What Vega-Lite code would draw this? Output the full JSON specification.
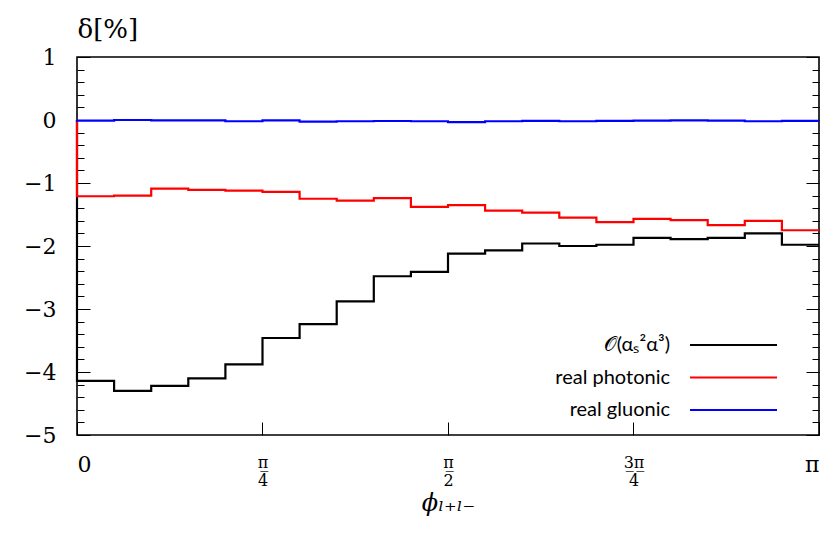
{
  "$schema": "https://vega.github.io/schema/vega-lite/v6.json",
  "width": 742,
  "height": 378,
  "autosize": {"type": "none"},
  "padding": {"left": 77, "top": 57, "right": 14, "bottom": 101},
  "background": "white",
  "config": {
    "view": {"stroke": "black", "strokeWidth": 1.6},
    "font": "DejaVu Serif",
    "axis": {"labelFont": "DejaVu Serif", "titleFont": "DejaVu Serif", "labelColor": "black", "titleColor": "black", "tickColor": "black", "tickWidth": 1, "domain": false, "grid": false}
  },
  "data": {"values": [
    {"s": "𝒪(αₛ²α³)", "o": 0, "phi": 0, "d": 0},
    {"s": "𝒪(αₛ²α³)", "o": 1, "phi": 0, "d": -4.14},
    {"s": "𝒪(αₛ²α³)", "o": 2, "phi": 0.15708, "d": -4.30},
    {"s": "𝒪(αₛ²α³)", "o": 3, "phi": 0.31416, "d": -4.22},
    {"s": "𝒪(αₛ²α³)", "o": 4, "phi": 0.47124, "d": -4.10},
    {"s": "𝒪(αₛ²α³)", "o": 5, "phi": 0.62832, "d": -3.88},
    {"s": "𝒪(αₛ²α³)", "o": 6, "phi": 0.78540, "d": -3.46},
    {"s": "𝒪(αₛ²α³)", "o": 7, "phi": 0.94248, "d": -3.24},
    {"s": "𝒪(αₛ²α³)", "o": 8, "phi": 1.09956, "d": -2.88},
    {"s": "𝒪(αₛ²α³)", "o": 9, "phi": 1.25664, "d": -2.48},
    {"s": "𝒪(αₛ²α³)", "o": 10, "phi": 1.41372, "d": -2.41},
    {"s": "𝒪(αₛ²α³)", "o": 11, "phi": 1.57080, "d": -2.12},
    {"s": "𝒪(αₛ²α³)", "o": 12, "phi": 1.72788, "d": -2.07},
    {"s": "𝒪(αₛ²α³)", "o": 13, "phi": 1.88496, "d": -1.96},
    {"s": "𝒪(αₛ²α³)", "o": 14, "phi": 2.04204, "d": -2.00},
    {"s": "𝒪(αₛ²α³)", "o": 15, "phi": 2.19911, "d": -1.98},
    {"s": "𝒪(αₛ²α³)", "o": 16, "phi": 2.35619, "d": -1.87},
    {"s": "𝒪(αₛ²α³)", "o": 17, "phi": 2.51327, "d": -1.89},
    {"s": "𝒪(αₛ²α³)", "o": 18, "phi": 2.67035, "d": -1.87},
    {"s": "𝒪(αₛ²α³)", "o": 19, "phi": 2.82743, "d": -1.80},
    {"s": "𝒪(αₛ²α³)", "o": 20, "phi": 2.98451, "d": -1.98},
    {"s": "𝒪(αₛ²α³)", "o": 21, "phi": 3.141593, "d": -1.98},
    {"s": "real photonic", "o": 0, "phi": 0, "d": 0},
    {"s": "real photonic", "o": 1, "phi": 0, "d": -1.21},
    {"s": "real photonic", "o": 2, "phi": 0.15708, "d": -1.20},
    {"s": "real photonic", "o": 3, "phi": 0.31416, "d": -1.09},
    {"s": "real photonic", "o": 4, "phi": 0.47124, "d": -1.11},
    {"s": "real photonic", "o": 5, "phi": 0.62832, "d": -1.12},
    {"s": "real photonic", "o": 6, "phi": 0.78540, "d": -1.14},
    {"s": "real photonic", "o": 7, "phi": 0.94248, "d": -1.25},
    {"s": "real photonic", "o": 8, "phi": 1.09956, "d": -1.28},
    {"s": "real photonic", "o": 9, "phi": 1.25664, "d": -1.24},
    {"s": "real photonic", "o": 10, "phi": 1.41372, "d": -1.38},
    {"s": "real photonic", "o": 11, "phi": 1.57080, "d": -1.35},
    {"s": "real photonic", "o": 12, "phi": 1.72788, "d": -1.44},
    {"s": "real photonic", "o": 13, "phi": 1.88496, "d": -1.47},
    {"s": "real photonic", "o": 14, "phi": 2.04204, "d": -1.55},
    {"s": "real photonic", "o": 15, "phi": 2.19911, "d": -1.62},
    {"s": "real photonic", "o": 16, "phi": 2.35619, "d": -1.57},
    {"s": "real photonic", "o": 17, "phi": 2.51327, "d": -1.59},
    {"s": "real photonic", "o": 18, "phi": 2.67035, "d": -1.67},
    {"s": "real photonic", "o": 19, "phi": 2.82743, "d": -1.60},
    {"s": "real photonic", "o": 20, "phi": 2.98451, "d": -1.75},
    {"s": "real photonic", "o": 21, "phi": 3.141593, "d": -1.75},
    {"s": "real gluonic", "o": 0, "phi": 0, "d": 0},
    {"s": "real gluonic", "o": 1, "phi": 0, "d": -0.01},
    {"s": "real gluonic", "o": 2, "phi": 0.15708, "d": 0.0},
    {"s": "real gluonic", "o": 3, "phi": 0.31416, "d": -0.005},
    {"s": "real gluonic", "o": 4, "phi": 0.47124, "d": -0.005},
    {"s": "real gluonic", "o": 5, "phi": 0.62832, "d": -0.02},
    {"s": "real gluonic", "o": 6, "phi": 0.78540, "d": -0.005},
    {"s": "real gluonic", "o": 7, "phi": 0.94248, "d": -0.026},
    {"s": "real gluonic", "o": 8, "phi": 1.09956, "d": -0.02},
    {"s": "real gluonic", "o": 9, "phi": 1.25664, "d": -0.016},
    {"s": "real gluonic", "o": 10, "phi": 1.41372, "d": -0.02},
    {"s": "real gluonic", "o": 11, "phi": 1.57080, "d": -0.035},
    {"s": "real gluonic", "o": 12, "phi": 1.72788, "d": -0.02},
    {"s": "real gluonic", "o": 13, "phi": 1.88496, "d": -0.015},
    {"s": "real gluonic", "o": 14, "phi": 2.04204, "d": -0.02},
    {"s": "real gluonic", "o": 15, "phi": 2.19911, "d": -0.015},
    {"s": "real gluonic", "o": 16, "phi": 2.35619, "d": -0.01},
    {"s": "real gluonic", "o": 17, "phi": 2.51327, "d": -0.005},
    {"s": "real gluonic", "o": 18, "phi": 2.67035, "d": -0.01},
    {"s": "real gluonic", "o": 19, "phi": 2.82743, "d": -0.02},
    {"s": "real gluonic", "o": 20, "phi": 2.98451, "d": -0.015},
    {"s": "real gluonic", "o": 21, "phi": 3.141593, "d": -0.015}
  ]},
  "layer": [
    {
      "mark": {"type": "line", "opacity": 0},
      "encoding": {
        "x": {"field": "phi", "type": "quantitative", "scale": {"domain": [0, 3.141593], "nice": false, "zero": false}, "axis": null},
        "y": {"field": "d", "type": "quantitative", "scale": {"domain": [-5, 1], "nice": false},
          "axis": {"orient": "left", "values": [-4.8,-4.6,-4.4,-4.2,-3.8,-3.6,-3.4,-3.2,-2.8,-2.6,-2.4,-2.2,-1.8,-1.6,-1.4,-1.2,-0.8,-0.6,-0.4,-0.2,0.2,0.4,0.6,0.8], "tickSize": -7, "labels": false, "title": null}},
        "order": {"field": "o"}
      }
    },
    {
      "mark": {"type": "line", "opacity": 0},
      "encoding": {
        "x": {"field": "phi", "type": "quantitative", "axis": null},
        "y": {"field": "d", "type": "quantitative",
          "axis": {"orient": "right", "values": [-4.8,-4.6,-4.4,-4.2,-3.8,-3.6,-3.4,-3.2,-2.8,-2.6,-2.4,-2.2,-1.8,-1.6,-1.4,-1.2,-0.8,-0.6,-0.4,-0.2,0.2,0.4,0.6,0.8], "tickSize": -7, "labels": false, "title": null}},
        "order": {"field": "o"}
      }
    },
    {
      "mark": {"type": "line", "opacity": 0},
      "encoding": {
        "x": {"field": "phi", "type": "quantitative", "axis": null},
        "y": {"field": "d", "type": "quantitative",
          "axis": {"orient": "right", "values": [-5,-4,-3,-2,-1,0,1], "tickSize": -13, "labels": false, "title": null}},
        "order": {"field": "o"}
      }
    },
    {
      "mark": {"type": "line", "interpolate": "step-after", "strokeWidth": 2.2},
      "encoding": {
        "x": {"field": "phi", "type": "quantitative",
          "axis": {"orient": "bottom", "values": [0, 0.785398, 1.570796, 2.356194, 3.141593], "tickSize": -13,
            "labelExpr": "datum.value < 0.1 ? '0' : datum.value > 3 ? 'π' : datum.value < 1 ? ['π̲', '4'] : datum.value < 2 ? ['π̲', '2'] : ['3̲π̲', '4']",
            "labelFont": "DejaVu Serif",
            "labelFontSize": {"condition": {"test": "datum.value < 0.1 || datum.value > 3", "value": 22}, "value": 16},
            "labelLineHeight": 18, "labelPadding": 32, "labelOverlap": false,
            "title": "ϕₗ₊ₗ₋", "titleFont": "DejaVu Serif", "titleFontSize": 24, "titleFontWeight": "normal", "titleFontStyle": "italic", "titlePadding": 3}},
        "y": {"field": "d", "type": "quantitative",
          "axis": {"orient": "left", "values": [-5,-4,-3,-2,-1,0,1], "tickSize": -13, "labelFont": "DejaVu Serif", "labelFontSize": 22, "labelPadding": 34,
            "labelExpr": "replace(datum.label, '-', '−')",
            "title": "δ[%]", "titleFont": "DejaVu Serif", "titleAngle": 0, "titleAlign": "left", "titleBaseline": "alphabetic", "titleX": 0, "titleY": -20, "titleFontSize": 26, "titleFontWeight": "normal"}},
        "color": {"field": "s", "type": "nominal",
          "scale": {"domain": ["𝒪(αₛ²α³)", "real photonic", "real gluonic"], "range": ["#000000", "#ff0000", "#0000ff"]},
          "legend": {"orient": "none", "legendX": 646.5, "legendY": 278, "title": null, "padding": 0,
            "symbolType": "M-8.7,0H8.7", "symbolSize": 100, "symbolStrokeWidth": 2.2,
            "labelAlign": "right", "labelOffset": -73.5, "labelFont": "Lato", "labelFontSize": 20, "labelColor": "black",
            "rowPadding": 12.5}},
        "order": {"field": "o"}
      }
    }
  ],
  "resolve": {"axis": {"x": "independent", "y": "independent"}}
}
